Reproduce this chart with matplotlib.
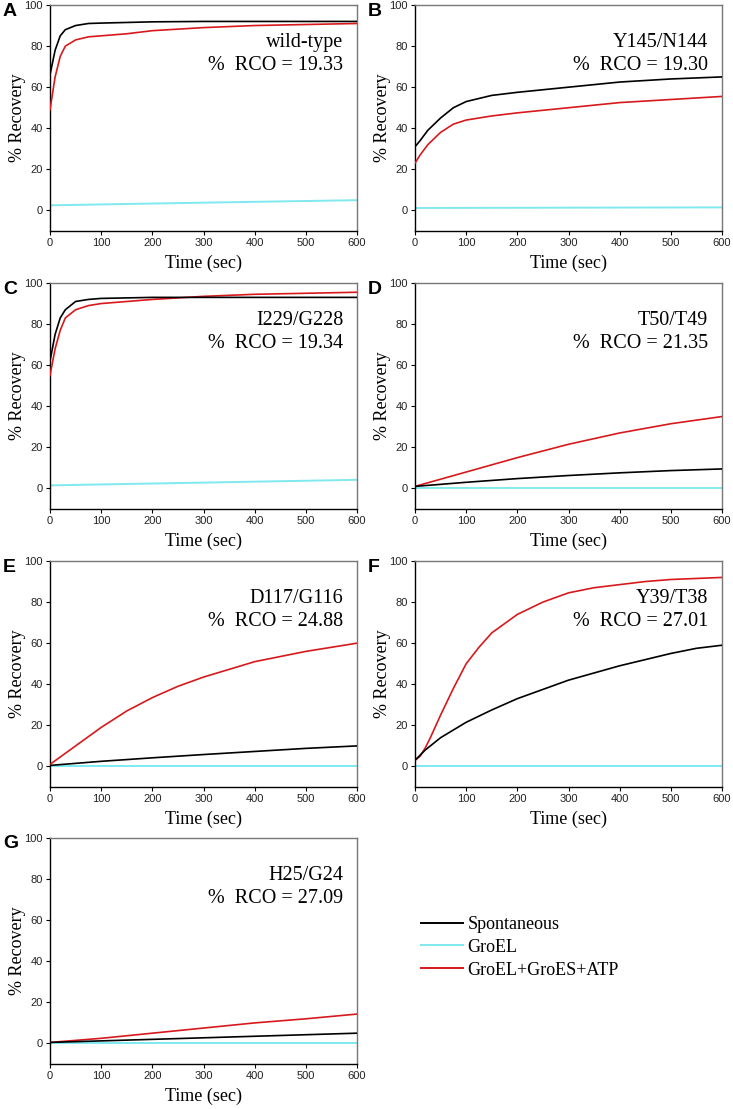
import matplotlib
matplotlib.use("Agg")
import matplotlib.pyplot as plt
from matplotlib.lines import Line2D

# panel A - wild-type
tA_k = [0, 10, 20, 30, 50, 75, 100, 200, 300, 400, 500, 600]
yA_k = [66, 78, 85, 88, 90, 91, 91.2, 91.8, 92, 92, 92, 92]
tA_r = [0, 10, 20, 30, 50, 75, 100, 150, 200, 300, 400, 500, 600]
yA_r = [49, 65, 75, 80, 83, 84.5, 85, 86, 87.5, 89, 90, 90.5, 91]
tA_c = [0, 300, 600]
yA_c = [2.5, 3.8, 5]

# panel B - Y145/N144
tB_k = [0, 10, 25, 50, 75, 100, 150, 200, 300, 400, 500, 600]
yB_k = [31, 34, 39, 45, 50, 53, 56, 57.5, 60, 62.5, 64, 65]
tB_r = [0, 10, 25, 50, 75, 100, 150, 200, 300, 400, 500, 600]
yB_r = [23, 27, 32, 38, 42, 44, 46, 47.5, 50, 52.5, 54, 55.5]
tB_c = [0, 600]
yB_c = [1.2, 1.5]

# panel C - I229/G228
tC_k = [0, 10, 20, 30, 50, 75, 100, 200, 300, 400, 500, 600]
yC_k = [62, 75, 83, 87, 91, 92, 92.5, 93, 93, 93, 93, 93]
tC_r = [0, 10, 20, 30, 50, 75, 100, 150, 200, 300, 400, 500, 600]
yC_r = [55, 68, 77, 83, 87, 89, 90, 91, 92, 93.5, 94.5, 95, 95.5]
tC_c = [0, 600]
yC_c = [1.5, 4.2]

# panel D - T50/T49
tD_k = [0, 100, 200, 300, 400, 500, 600]
yD_k = [1, 3, 4.8, 6.3, 7.6, 8.7, 9.5]
tD_r = [0, 100, 200, 300, 400, 500, 600]
yD_r = [1, 8, 15, 21.5, 27, 31.5, 35]
tD_c = [0, 600]
yD_c = [0, 0]

# panel E - D117/G116
tE_k = [0, 100, 200, 300, 400, 500, 600]
yE_k = [0.5, 2.5, 4.2, 5.8, 7.3, 8.8, 10]
tE_r = [0, 50, 100, 150, 200, 250, 300, 400, 500, 600]
yE_r = [1, 10, 19, 27, 33.5, 39, 43.5, 51, 56, 60]
tE_c = [0, 600]
yE_c = [0, 0]

# panel F - Y39/T38
tF_k = [0, 20, 50, 100, 150, 200, 250, 300, 350, 400, 450, 500, 550, 600]
yF_k = [3, 8, 14, 21.5, 27.5, 33, 37.5, 42, 45.5, 49, 52, 55, 57.5, 59]
tF_r = [0, 10, 20, 30, 50, 75, 100, 125, 150, 200, 250, 300, 350, 400, 450, 500, 550, 600]
yF_r = [3, 5, 9, 14, 25, 38, 50, 58, 65, 74, 80, 84.5, 87, 88.5, 90, 91, 91.5, 92]
tF_c = [0, 600]
yF_c = [0, 0]

# panel G - H25/G24
tG_k = [0, 200, 400, 600]
yG_k = [0.5, 2, 3.5, 5]
tG_r = [0, 100, 200, 300, 400, 500, 600]
yG_r = [0.5, 2.5, 5, 7.5, 10, 12, 14.3]
tG_c = [0, 600]
yG_c = [0, 0]

letters = ["A", "B", "C", "D", "E", "F", "G"]
mutants = ["wild-type", "Y145/N144", "I229/G228", "T50/T49", "D117/G116", "Y39/T38", "H25/G24"]
rco = ["19.33", "19.30", "19.34", "21.35", "24.88", "27.01", "27.09"]
series_names = ["Spontaneous", "GroEL", "GroEL+GroES+ATP"]

panels = [
    (tA_k, yA_k, tA_c, yA_c, tA_r, yA_r),
    (tB_k, yB_k, tB_c, yB_c, tB_r, yB_r),
    (tC_k, yC_k, tC_c, yC_c, tC_r, yC_r),
    (tD_k, yD_k, tD_c, yD_c, tD_r, yD_r),
    (tE_k, yE_k, tE_c, yE_c, tE_r, yE_r),
    (tF_k, yF_k, tF_c, yF_c, tF_r, yF_r),
    (tG_k, yG_k, tG_c, yG_c, tG_r, yG_r),
]

black = "#000000"
cyan = "#7fe9ef"
red = "#d7191c"
colors = [black, cyan, red]

serif = ["Liberation Serif", "DejaVu Serif"]
sans = ["Liberation Sans", "DejaVu Sans"]

W, H = 733, 1109
fig = plt.figure(figsize=(W / 100, H / 100), dpi=100)

col_left = [50, 415]
row_top = [5, 283, 561, 838]
aw, ah = 307, 226

for i, d in enumerate(panels):
    r, c = i // 2, i % 2
    x0 = col_left[c]
    y0 = row_top[r]
    ax = fig.add_axes([x0 / W, 1 - (y0 + ah) / H, aw / W, ah / H])
    ax.plot(d[4], d[5], color=red, lw=1.2, zorder=3)
    ax.plot(d[2], d[3], color=cyan, lw=1.4, zorder=2)
    ax.plot(d[0], d[1], color=black, lw=1.2, zorder=4)
    ax.set_xlim(0, 600)
    ax.set_ylim(-10, 100)
    ax.set_xticks([0, 100, 200, 300, 400, 500, 600])
    ax.set_yticks([0, 20, 40, 60, 80, 100])
    ax.tick_params(direction="out", length=3, width=0.8, labelsize=8, pad=2,
                   labelcolor="#222222")
    for lab in ax.get_xticklabels() + ax.get_yticklabels():
        lab.set_family(sans)
    ax.spines["top"].set_color("#777777")
    ax.spines["right"].set_color("#777777")
    for s in ax.spines.values():
        s.set_linewidth(1.0)
    ax.set_xlabel("Time (sec)", family=serif, fontsize=13, labelpad=5)
    ax.set_ylabel("% Recovery", family=serif, fontsize=13, labelpad=-1)
    ax.text(0.955, 0.835, mutants[i], transform=ax.transAxes, ha="right", va="center",
            family=serif, fontsize=14.5)
    ax.text(0.955, 0.733, "%  RCO = " + rco[i], transform=ax.transAxes, ha="right", va="center",
            family=serif, fontsize=14.5)
    fig.text((x0 - 47) / W, 1 - (y0 + 6) / H, letters[i], family=sans, fontweight="bold",
             fontsize=14, ha="left", va="center")

handles = [Line2D([], [], color=col, lw=1.4) for col in colors]
fig.legend(handles, series_names, loc="upper left", bbox_to_anchor=(421 / W, 1 - 916 / H),
           frameon=False, prop={"family": serif, "size": 13}, handlelength=2.3,
           handletextpad=0.28, labelspacing=0.32, borderaxespad=0, borderpad=0)

fig.savefig("out.png", dpi=100)
